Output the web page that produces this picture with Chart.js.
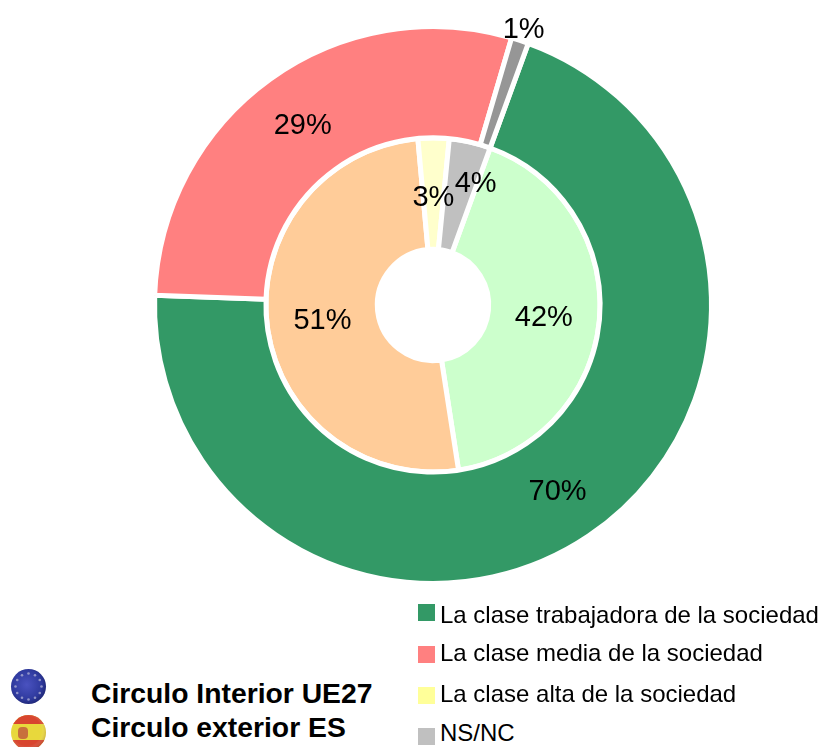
<!DOCTYPE html>
<html>
<head>
<meta charset="utf-8">
<title>Clase social</title>
<script src="https://cdn.jsdelivr.net/npm/chart.js@4"></script>
<style>
html, body { margin: 0; padding: 0; background: #fff; }
body { position: relative; width: 821px; height: 747px; overflow: hidden; font-family: "Liberation Sans", Arial, sans-serif; color: #000; }
#wrap { position: absolute; left: 133px; top: 5px; width: 600px; height: 600px; }
.key { position: absolute; left: 418px; width: 17px; height: 17px; }
.keyText { position: absolute; left: 440px; font-size: 24px; line-height: 26px; white-space: nowrap; }
.ring { position: absolute; left: 91px; font-size: 28.3px; font-weight: bold; line-height: 32px; white-space: nowrap; }
.flag { position: absolute; left: 10px; }
</style>
</head>
<body>
<div id="wrap"><canvas id="chart"></canvas></div>

<svg class="flag" style="top:668px" width="37" height="37" viewBox="0 0 37 37">
  <defs>
    <radialGradient id="eu" cx="45%" cy="45%" r="60%">
      <stop offset="0%" stop-color="#4a52c0"/>
      <stop offset="70%" stop-color="#2f3a9e"/>
      <stop offset="100%" stop-color="#1c2470"/>
    </radialGradient>
  </defs>
  <circle cx="18.5" cy="18.5" r="17.5" fill="url(#eu)"/>
  <g id="stars" fill="#b9b9d8" fill-opacity="0.7"></g>
</svg>
<svg class="flag" style="top:714px" width="37" height="37" viewBox="0 0 37 37">
  <defs>
    <clipPath id="es"><circle cx="18.5" cy="18.5" r="17.5"/></clipPath>
    <radialGradient id="esShade" cx="45%" cy="45%" r="60%">
      <stop offset="70%" stop-color="#fff" stop-opacity="0"/>
      <stop offset="100%" stop-color="#703000" stop-opacity="0.35"/>
    </radialGradient>
  </defs>
  <g clip-path="url(#es)">
    <rect width="37" height="37" fill="#e8d83c"/>
    <rect width="37" height="10" fill="#d8452f"/>
    <rect y="26" width="37" height="11" fill="#d8452f"/>
    <rect x="8" y="13" width="10" height="12" rx="4" fill="#c8703c"/>
  </g>
  <circle cx="18.5" cy="18.5" r="17.5" fill="url(#esShade)"/>
</svg>

<div class="ring" style="top:677px">Circulo Interior UE27</div>
<div class="ring" style="top:711px">Circulo exterior ES</div>

<script>
var categories = [
    "La clase trabajadora de la sociedad",
    "La clase media de la sociedad",
    "La clase alta de la sociedad",
    "NS/NC"
];
var exteriorES = [70, 29, 0, 1];
var interiorUE27 = [42, 51, 3, 4];
var exteriorColors = ["#339966", "#FF8080", "#FFFF99", "#969696"];
var interiorColors = ["#CCFFCC", "#FFCC99", "#FFFFCC", "#C0C0C0"];
var legendColors = ["#339966", "#FF8080", "#FFFF99", "#C0C0C0"];

// legend rows, top of square and top of text
var keyTops = [604, 646, 687, 728];
var textTops = [602, 640, 681, 720];
categories.forEach(function (name, i) {
    var box = document.createElement('div');
    box.className = 'key';
    box.style.top = keyTops[i] + 'px';
    box.style.background = legendColors[i];
    document.body.appendChild(box);
    var txt = document.createElement('div');
    txt.className = 'keyText';
    txt.style.top = textTops[i] + 'px';
    txt.textContent = name;
    document.body.appendChild(txt);
});

// stars of the EU flag
var stars = document.getElementById('stars');
for (var s = 0; s < 12; s++) {
    var a = s * Math.PI / 6;
    var c = document.createElementNS('http://www.w3.org/2000/svg', 'circle');
    c.setAttribute('cx', 18.5 + 13 * Math.cos(a));
    c.setAttribute('cy', 18.5 + 13 * Math.sin(a));
    c.setAttribute('r', 1.3);
    stars.appendChild(c);
}

// percent text on each slice, some of them are moved by hand like the original
var percentLabels = {
    id: 'percentLabels',
    afterDatasetsDraw: function (chart) {
        var ctx = chart.ctx;
        ctx.save();
        ctx.font = '29px "Liberation Sans", Arial, sans-serif';
        ctx.fillStyle = '#000';
        ctx.textAlign = 'center';
        ctx.textBaseline = 'middle';
        chart.data.datasets.forEach(function (ds, d) {
            chart.getDatasetMeta(d).data.forEach(function (arc, i) {
                if (!ds.data[i]) return;
                var p = arc.tooltipPosition();
                var x = p.x, y = p.y + 2;
                if (d == 0 && i == 3) { x += 21; y -= 65; }
                if (d == 1 && i == 3) { x += 18; y -= 14; }
                if (d == 1 && i == 2) { y += 2; }
                ctx.fillText(ds.data[i] + '%', x, y);
            });
        });
        ctx.restore();
    }
};

var ctx = document.getElementById('chart');
var chart = new Chart(ctx, {
    type: 'doughnut',
    data: {
        labels: categories,
        datasets: [
            { label: 'Circulo exterior ES', data: exteriorES, backgroundColor: exteriorColors, borderColor: '#fff', borderWidth: 5 },
            { label: 'Circulo Interior UE27', data: interiorUE27, backgroundColor: interiorColors, borderColor: '#fff', borderWidth: 5 }
        ]
    },
    options: {
        responsive: true,
        maintainAspectRatio: true,
        aspectRatio: 1,
        animation: false,
        rotation: 20,
        cutout: '20%',
        layout: { padding: 19 },
        plugins: {
            legend: { display: false },
            tooltip: { enabled: false }
        }
    },
    plugins: [percentLabels]
});
</script>
</body>
</html>
